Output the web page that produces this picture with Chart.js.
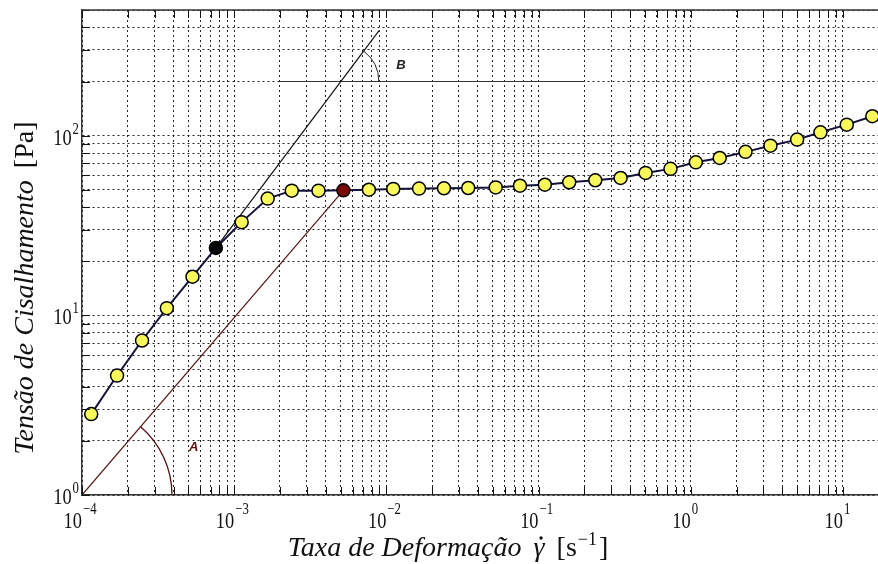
<!DOCTYPE html>
<html>
<head>
<meta charset="utf-8">
<script src="https://cdn.jsdelivr.net/npm/chart.js@4.4.1/dist/chart.umd.min.js"></script>
<style>
  body { margin: 0; background: #fff; }
  #caixa { width: 878px; height: 564px; }
</style>
</head>
<body>
<div id="caixa"><canvas id="grafico" width="878" height="564"></canvas></div>
<script>
// curva de escoamento (taxa x tensao)
const taxa = [1.15e-4, 1.70e-4, 2.48e-4, 3.61e-4, 5.32e-4, 7.58e-4, 1.12e-3, 1.66e-3,
  2.39e-3, 3.58e-3, 5.22e-3, 7.68e-3, 0.0111, 0.0164, 0.0239, 0.0345, 0.0523, 0.0755,
  0.110, 0.159, 0.236, 0.346, 0.505, 0.736, 1.08, 1.55, 2.29, 3.34, 5.00, 7.12, 10.6, 15.6];
const tensao = [2.82, 4.62, 7.24, 10.96, 16.4, 23.7, 33.0, 44.6,
  49.4, 49.4, 49.6, 50.0, 50.5, 50.7, 50.9, 51.1, 51.5, 52.6,
  53.3, 55.0, 56.4, 58.1, 62.0, 65.3, 71.0, 75.1, 81.2, 87.9, 95.0, 104.3, 115.1, 128.2];
const idxPreto = 5;     // ponto preto
const idxVermelho = 10; // ponto vermelho

// retas auxiliares
const retaAx = [1e-4, 5.22e-3];
const retaAy = [1, 49.6];
const retaBx = [7.58e-4, 8.95e-3];
const retaBy = [23.7, 384];
const horizBx = [2e-3, 0.2];
const horizBy = [200, 200];

// eixos
const expX = [-4, -3, -2, -1, 0, 1];
const expY = [0, 1, 2];
const mult = [1, 2, 3, 4, 5, 6, 7, 8, 9];
const xMin = 1e-4, xMax = 17;
const yMin = 1, yMax = 500;

const ticksX = [];
expX.forEach(e => mult.forEach(m => { const v = m * Math.pow(10, e); if (v <= xMax) ticksX.push(+v.toPrecision(3)); }));
const ticksY = [];
expY.forEach(e => mult.forEach(m => { const v = m * Math.pow(10, e); if (v <= yMax) ticksY.push(+v.toPrecision(3)); }));

const pares = (xs, ys) => xs.map((x, i) => ({x: x, y: ys[i]}));

const serif = '"Liberation Serif", "DejaVu Serif", serif';

function pot(ctx, base, expo, x, y, yExp, modo) {
  // "10" com expoente; modo 'x' = base termina no tick, 'y' = tudo alinhado a direita
  const c = 0.8;
  ctx.save();
  ctx.fillStyle = '#111';
  ctx.textBaseline = 'alphabetic';
  ctx.font = '23px ' + serif;
  const wb = ctx.measureText(base).width * c;
  ctx.font = '16px ' + serif;
  const we = ctx.measureText(expo).width * c;
  let xb, xe;
  if (modo === 'x') { xb = x - wb; xe = x + 1; }
  else { xe = x - we; xb = xe - wb - 1; }
  ctx.save(); ctx.translate(xb, y); ctx.scale(c, 1);
  ctx.font = '23px ' + serif; ctx.fillText(base, 0, 0); ctx.restore();
  ctx.save(); ctx.translate(xe, yExp); ctx.scale(c, 1);
  ctx.font = '16px ' + serif; ctx.fillText(expo, 0, 0); ctx.restore();
  ctx.restore();
}

const sup = n => (n < 0 ? '\u2212' : '') + Math.abs(n);

const moldura = {
  id: 'moldura',
  afterDatasetsDraw(chart) {
    const {ctx, chartArea: a, scales: {x, y}} = chart;
    ctx.save();
    ctx.strokeStyle = '#111';
    ctx.lineWidth = 1;
    // marcas internas
    ticksX.forEach(v => {
      const px = Math.round(x.getPixelForValue(v)) + 0.5;
      ctx.beginPath();
      ctx.moveTo(px, a.bottom); ctx.lineTo(px, a.bottom - 8);
      ctx.moveTo(px, a.top); ctx.lineTo(px, a.top + 8);
      ctx.stroke();
    });
    ticksY.forEach(v => {
      const py = Math.round(y.getPixelForValue(v)) + 0.5;
      ctx.beginPath();
      ctx.moveTo(a.left, py); ctx.lineTo(a.left + 8, py);
      ctx.stroke();
    });
    // borda de cima
    ctx.strokeStyle = '#333';
    ctx.lineWidth = 1.5;
    ctx.beginPath();
    ctx.moveTo(a.left, a.top); ctx.lineTo(a.right, a.top);
    ctx.stroke();

    // arco A (centro na origem da reta A)
    const ax0 = x.getPixelForValue(retaAx[0]), ay0 = y.getPixelForValue(retaAy[0]);
    const ax1 = x.getPixelForValue(retaAx[1]), ay1 = y.getPixelForValue(retaAy[1]);
    const angA = Math.atan2(ay1 - ay0, ax1 - ax0);
    ctx.strokeStyle = '#5a0a0a';
    ctx.lineWidth = 1.3;
    ctx.beginPath();
    ctx.arc(ax0, ay0, 90, angA, 0);
    ctx.stroke();

    // arco B (no cruzamento da reta B com a horizontal)
    const bx0 = x.getPixelForValue(retaBx[0]), by0 = y.getPixelForValue(retaBy[0]);
    const bx1 = x.getPixelForValue(retaBx[1]), by1 = y.getPixelForValue(retaBy[1]);
    const hy = y.getPixelForValue(horizBy[0]);
    const t = (hy - by0) / (by1 - by0);
    const cx = bx0 + t * (bx1 - bx0);
    const angB = Math.atan2(by1 - by0, bx1 - bx0);
    ctx.strokeStyle = '#222';
    ctx.lineWidth = 1;
    ctx.beginPath();
    ctx.arc(cx, hy, 38, angB, 0);
    ctx.stroke();

    // letras
    ctx.font = 'bold italic 13px "Liberation Sans", Arial, sans-serif';
    ctx.textAlign = 'center';
    ctx.textBaseline = 'middle';
    ctx.fillStyle = '#6a0a0a';
    ctx.fillText('A', x.getPixelForValue(5.42e-4), y.getPixelForValue(1.84));
    ctx.fillStyle = '#222';
    ctx.fillText('B', x.getPixelForValue(0.01249), y.getPixelForValue(245.6));
    ctx.restore();
  },
  afterDraw(chart) {
    const {ctx, chartArea: a, scales: {x, y}} = chart;
    expX.forEach(e => {
      const px = x.getPixelForValue(Math.pow(10, e));
      pot(ctx, '10', sup(e), px, a.bottom + 33, a.bottom + 19, 'x');
    });
    expY.forEach(e => {
      const py = y.getPixelForValue(Math.pow(10, e));
      pot(ctx, '10', sup(e), a.left - 3, py + 9, py - 2, 'y');
    });

    ctx.save();
    ctx.fillStyle = '#111';
    ctx.textBaseline = 'alphabetic';
    // titulo do eixo x: texto, gama com ponto, unidade
    const fIt = 'italic 28px ' + serif, fUp = '28px ' + serif, fSup = '18px ' + serif;
    const partes = [
      [fIt, 'Taxa de Deformação', 0, 0],
      [fIt, '\u03B3', 12, 0],
      [fUp, '[s', 12, 0],
      [fSup, '\u22121', 1, -11],
      [fUp, ']', 2, 0]
    ];
    let larg = 0;
    partes.forEach(p => { ctx.font = p[0]; larg += ctx.measureText(p[1]).width + p[2]; });
    let cx = 448 - larg / 2;
    partes.forEach(p => {
      ctx.font = p[0];
      const w = ctx.measureText(p[1]).width;
      ctx.fillText(p[1], cx + p[2], 556 + p[3]);
      if (p[1] === '\u03B3') {
        ctx.beginPath();
        ctx.arc(cx + p[2] + w / 2 + 2, 538, 1.7, 0, Math.PI * 2);
        ctx.fill();
      }
      cx += w + p[2];
    });

    // titulo do eixo y
    ctx.translate(33, 288);
    ctx.rotate(-Math.PI / 2);
    const fIt2 = 'italic 28px ' + serif, fUp2 = '28px ' + serif;
    ctx.font = fIt2;
    const t1 = 'Tensão de Cisalhamento';
    const w1 = ctx.measureText(t1).width + 12;
    ctx.font = fUp2;
    const w2 = ctx.measureText('[Pa]').width;
    let sx = -(w1 + w2) / 2;
    ctx.font = fIt2; ctx.fillText(t1, sx, 0);
    ctx.font = fUp2; ctx.fillText('[Pa]', sx + w1, 0);
    ctx.restore();
  }
};

const cores = taxa.map((v, i) => i === idxPreto ? '#000000' : (i === idxVermelho ? '#7a0808' : '#f8f85a'));

const eixo = (min, max, lista) => ({
  type: 'logarithmic',
  min: min,
  max: max,
  afterBuildTicks: s => { s.ticks = lista.map(v => ({value: v})); },
  ticks: {display: false},
  grid: {color: 'rgba(0,0,0,0.85)', lineWidth: 1, drawTicks: false},
  border: {display: true, color: '#333', width: 1.5, dash: [2, 3]}
});

new Chart(document.getElementById('grafico'), {
  type: 'scatter',
  data: {
    datasets: [
      {
        label: 'Tensão',
        data: pares(taxa, tensao),
        showLine: true,
        borderColor: '#12123c',
        borderWidth: 2,
        pointRadius: 6.5,
        pointBorderWidth: 1.5,
        pointBorderColor: '#000',
        pointBackgroundColor: cores
      },
      {
        label: 'A',
        data: pares(retaAx, retaAy),
        showLine: true,
        borderColor: '#5a1414',
        borderWidth: 1.2,
        pointRadius: 0
      },
      {
        label: 'B',
        data: pares(retaBx, retaBy),
        showLine: true,
        borderColor: '#111',
        borderWidth: 1.2,
        pointRadius: 0
      },
      {
        label: 'horizontal',
        data: pares(horizBx, horizBy),
        showLine: true,
        borderColor: '#333',
        borderWidth: 1.2,
        pointRadius: 0
      }
    ]
  },
  options: {
    responsive: false,
    animation: false,
    devicePixelRatio: 1,
    layout: {autoPadding: false, padding: {left: 82, top: 10, right: 0, bottom: 69}},
    plugins: {legend: {display: false}, tooltip: {enabled: false}},
    scales: {
      x: eixo(xMin, xMax, ticksX),
      y: eixo(yMin, yMax, ticksY)
    }
  },
  plugins: [moldura]
});
</script>
</body>
</html>
